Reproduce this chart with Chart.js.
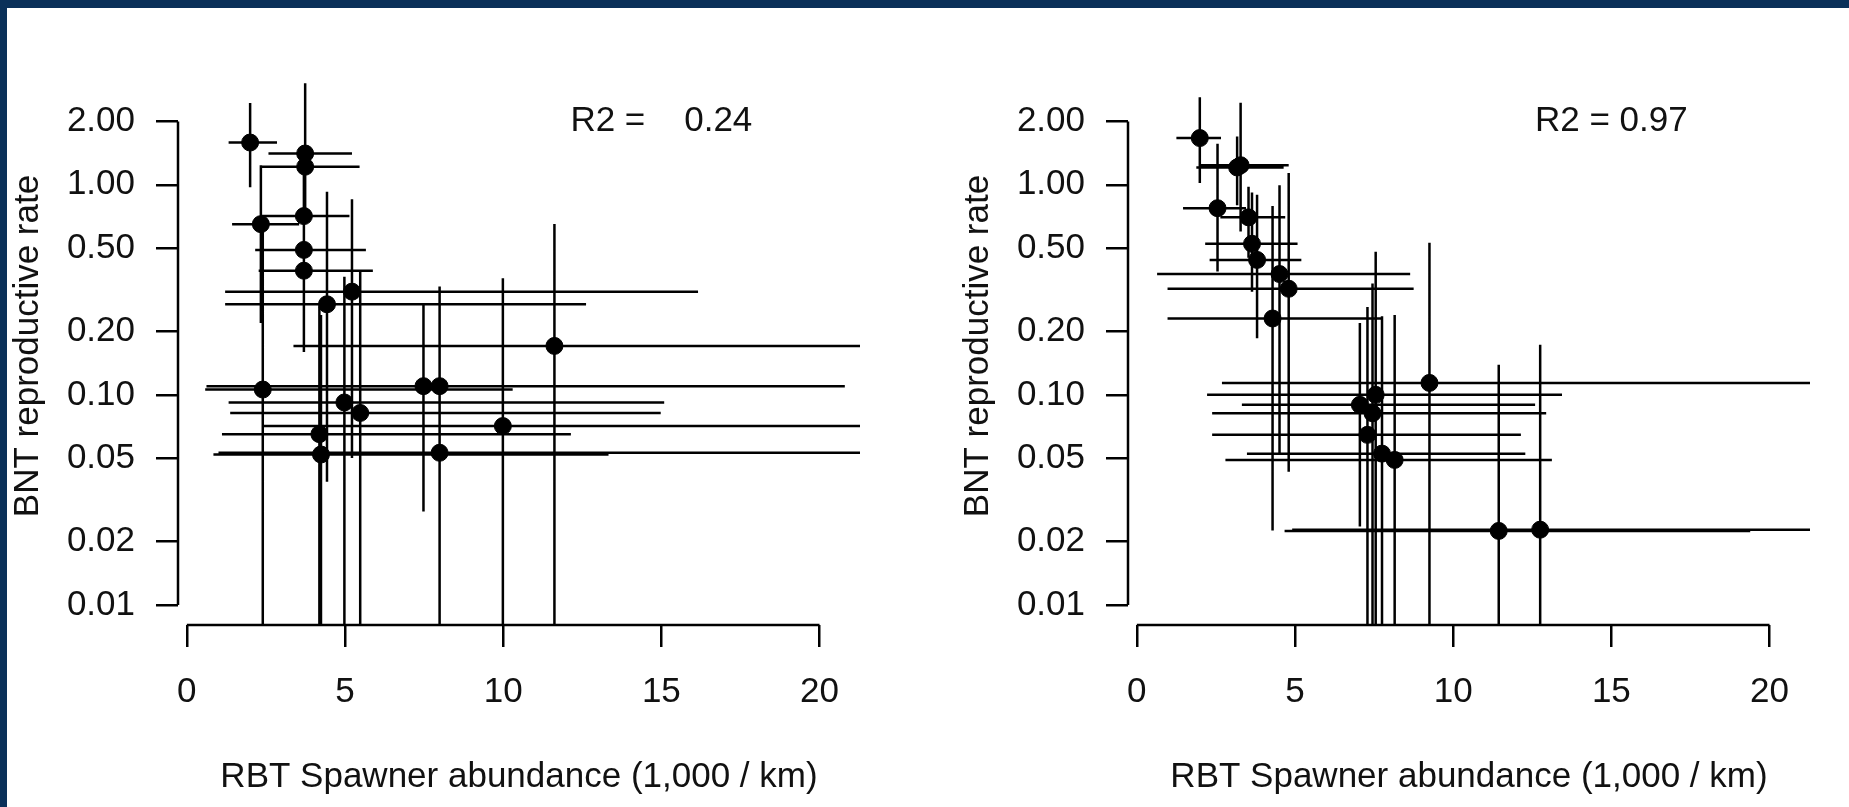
<!DOCTYPE html>
<html lang="en">
<head>
<meta charset="UTF-8">
<title>BNT reproductive rate vs RBT spawner abundance</title>
<script src="https://cdn.jsdelivr.net/npm/chart.js"></script>
<style>
  html, body { margin: 0; padding: 0; background: #fff; overflow: hidden; }
  body { width: 1849px; height: 807px; position: relative; }
  canvas { position: absolute; top: 0; }
  .frame { position: absolute; left: 0; top: 0; background: #0a3059; z-index: 2; }
</style>
</head>
<body>
<div class="frame" style="width:1849px;height:8px"></div>
<div class="frame" style="width:7px;height:807px"></div>
<canvas id="leftChart" width="925" height="807" style="left:0"></canvas>
<canvas id="rightChart" width="899" height="807" style="left:950px"></canvas>

<script>
// Tick values and labels (shared by both panels)
const xTickValues = [0, 5, 10, 15, 20];
const xTickLabels = ['0', '5', '10', '15', '20'];
const yTickValues = [0.01, 0.02, 0.05, 0.1, 0.2, 0.5, 1, 2];
const yTickLabels = ['0.01', '0.02', '0.05', '0.10', '0.20', '0.50', '1.00', '2.00'];

// Left panel: estimate and error range for each year
const leftX   = [2.00, 3.74, 3.74, 2.34, 3.70, 3.70, 3.70, 4.43, 5.22, 4.98, 5.48, 4.19, 4.24, 2.40, 7.99, 7.48, 7.99, 9.99, 11.62];
const leftY   = [1.59, 1.41, 1.22, 0.65, 0.71, 0.49, 0.39, 0.27, 0.31, 0.092, 0.082, 0.065, 0.052, 0.106, 0.053, 0.110, 0.110, 0.071, 0.171];
const leftXLo = [1.32, 2.58, 2.34, 1.43, 2.37, 2.16, 2.27, 1.21, 1.21, 1.32, 1.37, 1.11, 0.84, 0.58, 1.00, 0.62, 3.00, 2.37, 3.37];
const leftXHi = [2.85, 5.22, 5.46, 3.55, 5.14, 5.66, 5.88, 12.62, 16.16, 15.09, 14.98, 12.14, 13.33, 10.3, 22, 20.8, 8.6, 22, 22];
const leftYLo = [0.974, 0.95, 0.70, 0.22, 0.40, 0.25, 0.16, 0.0386, 0.05, 0.005, 0.005, 0.005, 0.005, 0.005, 0.0127, 0.0278, 0.005, 0.005, 0.005];
const leftYHi = [2.45, 3.05, 2.5, 1.24, 1.30, 1.00, 0.90, 0.928, 0.854, 0.365, 0.39, 0.264, 0.24, 0.62, 0.244, 0.269, 0.328, 0.359, 0.651];
const leftR2 = 'R2 =    0.24';

// Right panel
const rightX   = [1.99, 3.17, 3.28, 2.55, 3.53, 3.64, 3.80, 4.51, 4.80, 4.29, 9.25, 7.05, 7.55, 7.45, 7.29, 7.75, 8.15, 11.44, 12.75];
const rightY   = [1.67, 1.21, 1.24, 0.774, 0.70, 0.524, 0.439, 0.376, 0.32, 0.231, 0.114, 0.0896, 0.100, 0.0817, 0.0645, 0.0525, 0.049, 0.0225, 0.0228];
const rightXLo = [1.25, 1.88, 1.95, 1.46, 2.64, 2.16, 2.30, 0.64, 0.97, 0.97, 2.69, 3.32, 2.22, 2.38, 2.38, 3.48, 2.80, 4.67, 4.91];
const rightXHi = [2.66, 4.64, 4.80, 3.45, 4.69, 5.08, 5.20, 8.64, 8.75, 7.75, 22, 12.59, 13.44, 12.94, 12.14, 12.28, 13.12, 19.39, 22];
const rightYLo = [1.02, 0.80, 0.60, 0.387, 0.45, 0.31, 0.186, 0.053, 0.043, 0.0226, 0.005, 0.0236, 0.005, 0.005, 0.005, 0.005, 0.005, 0.005, 0.005];
const rightYHi = [2.61, 1.70, 2.46, 1.57, 0.98, 0.92, 0.896, 0.996, 1.14, 0.794, 0.53, 0.22, 0.48, 0.339, 0.262, 0.237, 0.24, 0.139, 0.173];
const rightR2 = 'R2 = 0.97';

// where the R2 note sits, in data units
const noteX = 15;
const noteY = 2;

const FONT = "'Liberation Sans', Arial, sans-serif";
Chart.defaults.font.family = FONT;
Chart.defaults.font.size = 35;
Chart.defaults.color = '#111';

// error bars + R-style detached axis lines + R2 note
function panelPlugin(xs, ys, xlo, xhi, ylo, yhi, note) {
    return {
        id: 'panel',
        beforeDatasetsDraw(chart) {
            const {ctx, chartArea: a, scales: {x, y}} = chart;
            ctx.save();
            ctx.beginPath();
            ctx.rect(a.left, a.top, a.right - a.left, a.bottom - a.top);
            ctx.clip();
            ctx.strokeStyle = '#000';
            ctx.lineWidth = 2.5;
            ctx.beginPath();
            for (let i = 0; i < xs.length; i++) {
                const px = x.getPixelForValue(xs[i]);
                const py = y.getPixelForValue(ys[i]);
                ctx.moveTo(x.getPixelForValue(xlo[i]), py);
                ctx.lineTo(x.getPixelForValue(xhi[i]), py);
                ctx.moveTo(px, y.getPixelForValue(yhi[i]));
                ctx.lineTo(px, y.getPixelForValue(ylo[i]));
            }
            ctx.stroke();
            ctx.restore();
        },
        afterDraw(chart) {
            const {ctx, chartArea: a, scales: {x, y}} = chart;
            ctx.save();
            ctx.strokeStyle = '#000';
            ctx.lineWidth = 2.5;
            ctx.beginPath();
            ctx.moveTo(x.getPixelForValue(xTickValues[0]), a.bottom);
            ctx.lineTo(x.getPixelForValue(xTickValues[xTickValues.length - 1]), a.bottom);
            ctx.moveTo(a.left, y.getPixelForValue(yTickValues[0]));
            ctx.lineTo(a.left, y.getPixelForValue(yTickValues[yTickValues.length - 1]));
            ctx.stroke();
            ctx.fillStyle = '#111';
            ctx.font = '35px ' + FONT;
            ctx.textAlign = 'center';
            ctx.textBaseline = 'middle';
            ctx.fillText(note, x.getPixelForValue(noteX), y.getPixelForValue(noteY));
            ctx.restore();
        }
    };
}

function makePanel(id, xs, ys, xlo, xhi, ylo, yhi, note, rightPad) {
    const points = xs.map((v, i) => ({x: v, y: ys[i]}));
    return new Chart(document.getElementById(id), {
        type: 'scatter',
        data: {
            datasets: [{
                data: points,
                pointRadius: 8.5,
                pointHoverRadius: 8.5,
                borderWidth: 1,
                backgroundColor: '#000',
                borderColor: '#000'
            }]
        },
        options: {
            responsive: false,
            animation: false,
            events: [],
            layout: {padding: {left: 0, top: 67, right: rightPad, bottom: 0}},
            plugins: {legend: {display: false}, tooltip: {enabled: false}},
            scales: {
                x: {
                    type: 'linear',
                    min: -0.28,
                    max: 21.28,
                    afterBuildTicks: s => { s.ticks = xTickValues.map(v => ({value: v})); },
                    afterFit: s => { s.height = 182; },
                    grid: {display: true, drawOnChartArea: false, drawTicks: true, tickLength: 22, color: '#000', lineWidth: 2.5},
                    border: {display: false},
                    ticks: {padding: 24, maxRotation: 0, autoSkip: false, callback: (v, i) => xTickLabels[i]},
                    title: {display: true, text: 'RBT Spawner abundance (1,000 / km)', padding: {top: 0, bottom: 9}}
                },
                y: {
                    type: 'logarithmic',
                    min: 0.00802,
                    max: 3.64,
                    bounds: 'data',
                    afterBuildTicks: s => { s.ticks = yTickValues.map(v => ({value: v})); },
                    afterFit: s => { s.width = 178; },
                    grid: {display: true, drawOnChartArea: false, drawTicks: true, tickLength: 22, color: '#000', lineWidth: 2.5},
                    border: {display: false},
                    ticks: {padding: 21, autoSkip: false, callback: (v, i) => yTickLabels[i]},
                    title: {display: true, text: 'BNT reproductive rate', padding: {top: 7, bottom: 0}}
                }
            }
        },
        plugins: [panelPlugin(xs, ys, xlo, xhi, ylo, yhi, note)]
    });
}

makePanel('leftChart', leftX, leftY, leftXLo, leftXHi, leftYLo, leftYHi, leftR2, 65);
makePanel('rightChart', rightX, rightY, rightXLo, rightXHi, rightYLo, rightYHi, rightR2, 39);
</script>
</body>
</html>
